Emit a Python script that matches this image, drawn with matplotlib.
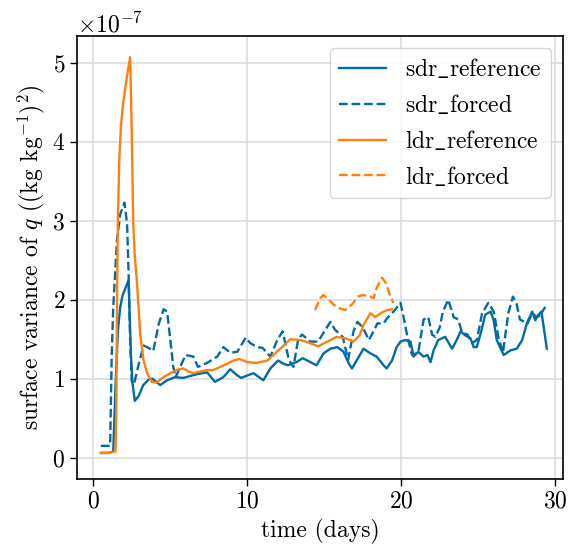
import matplotlib
matplotlib.use('Agg')
import matplotlib.pyplot as plt
import numpy as np

plt.rcParams['font.family'] = 'serif'
plt.rcParams['font.serif'] = ['cmr10']
plt.rcParams['mathtext.fontset'] = 'cm'
plt.rcParams['axes.formatter.use_mathtext'] = True
plt.rcParams['axes.unicode_minus'] = False

# values in units of 1e-7
sdr_ref_t = [0.5, 1.0, 1.3, 1.45, 1.6, 1.75, 1.9, 2.1, 2.3, 2.35, 2.45, 2.55, 2.7, 2.95,
             3.25, 3.6, 3.85, 4.15, 4.35, 4.8, 5.3, 5.85, 6.4, 6.8, 7.4, 7.9, 8.45, 8.9,
             9.3, 9.6, 10.0, 10.4, 11.05, 11.5, 12.0, 12.35, 12.65, 12.9, 13.2, 13.6,
             14.1, 14.5, 14.95, 15.4, 15.85, 16.25, 16.6, 16.8, 17.25, 17.55, 18.0, 18.4,
             18.85, 19.05, 19.4, 19.7, 19.95, 20.25, 20.6, 20.8, 21.1, 21.45, 21.7, 21.9,
             22.1, 22.4, 22.85, 23.3, 23.6, 23.85, 24.15, 24.5, 24.7, 24.9, 25.15, 25.45,
             25.8, 26.0, 26.2, 26.65, 27.1, 27.5, 27.85, 28.15, 28.5, 28.7, 28.9, 29.1, 29.45]
sdr_ref = [0.06, 0.06, 0.08, 0.9, 1.6, 1.9, 2.05, 2.15, 2.25, 1.9, 1.3, 0.95, 0.72, 0.78,
           0.92, 0.99, 1.0, 0.95, 0.92, 0.98, 1.02, 1.01, 1.04, 1.06, 1.08, 0.96, 1.02, 1.12,
           1.05, 1.01, 1.04, 1.07, 0.98, 1.13, 1.23, 1.19, 1.17, 1.19, 1.21, 1.26,
           1.21, 1.17, 1.32, 1.38, 1.4, 1.34, 1.19, 1.13, 1.28, 1.38, 1.32, 1.28,
           1.17, 1.13, 1.23, 1.4, 1.47, 1.49, 1.47, 1.28, 1.34, 1.28, 1.3, 1.21,
           1.36, 1.49, 1.53, 1.38, 1.49, 1.6, 1.55, 1.51, 1.4, 1.4, 1.57, 1.81,
           1.85, 1.74, 1.49, 1.3, 1.36, 1.38, 1.49, 1.7, 1.85, 1.74, 1.81, 1.85, 1.38]

sdr_frc_t = [0.5, 1.1, 1.2, 1.3, 1.54, 1.75, 2.03, 2.2, 2.3, 2.4, 2.5, 2.65, 2.95, 3.27,
             3.6, 3.9, 4.25, 4.57, 4.8, 5.2, 5.35, 6.0, 6.5, 6.8, 7.4, 8.05, 8.45, 8.9,
             9.35, 9.9, 10.2, 10.65, 11.0, 11.5, 11.95, 12.3, 12.7, 13.0, 13.3, 13.55,
             14.1, 14.6, 15.2, 15.4, 15.7, 16.2, 16.55, 16.9, 17.15, 17.5, 17.9, 18.2,
             18.45, 18.85, 19.1, 19.5, 19.95, 20.15, 20.4, 20.7, 21.1, 21.45, 21.75, 22.0,
             22.2, 22.5, 22.7, 23.05, 23.4, 23.7, 23.95, 24.3, 24.6, 24.9, 25.25, 25.65,
             26.0, 26.3, 26.6, 26.95, 27.25, 27.5, 27.7, 28.2, 28.5, 28.8, 29.0, 29.35]
sdr_frc = [0.15, 0.15, 1.27, 1.9, 2.75, 3.08, 3.23, 2.96, 2.32, 1.48, 0.97, 0.93, 1.18, 1.42,
           1.39, 1.35, 1.69, 1.88, 1.85, 1.15, 1.02, 1.3, 1.28, 1.15, 1.2, 1.28, 1.4, 1.33,
           1.34, 1.52, 1.45, 1.4, 1.39, 1.28, 1.49, 1.6, 1.24, 1.15, 1.49, 1.56,
           1.47, 1.47, 1.66, 1.72, 1.62, 1.53, 1.24, 1.6, 1.72, 1.65, 1.49, 1.6,
           1.7, 1.7, 1.77, 1.85, 1.96, 1.78, 1.53, 1.3, 1.33, 1.75, 1.78, 1.56,
           1.53, 1.65, 1.85, 2.0, 1.78, 1.75, 1.58, 1.56, 1.45, 1.49, 1.83, 1.96,
           1.85, 1.53, 1.33, 1.83, 2.04, 1.94, 1.75, 1.7, 1.83, 1.78, 1.8, 1.91]

ldr_ref_t = [0.5, 1.0, 1.45, 1.5, 1.55, 1.6, 1.7, 1.8, 1.95, 2.1, 2.25, 2.4, 2.5, 2.6,
             2.7, 2.85, 3.05, 3.27, 3.5, 3.8, 4.1, 4.57, 5.0, 5.4, 5.85, 6.2, 6.5, 6.9,
             7.4, 7.8, 8.25, 8.7, 9.1, 9.5, 10.0, 10.6, 11.3, 11.7, 12.25, 12.8, 13.45,
             14.1, 14.6, 15.2, 15.8, 16.4, 16.9, 17.3, 17.55, 18.0, 18.3, 18.75, 19.1, 19.4]
ldr_ref = [0.06, 0.06, 0.08, 0.6, 2.0, 3.0, 3.8, 4.2, 4.5, 4.7, 4.9, 5.07, 4.15, 2.97,
           2.55, 2.2, 1.57, 1.23, 1.07, 0.96, 0.95, 1.02, 1.07, 1.11, 1.13, 1.09, 1.07, 1.09,
           1.11, 1.11, 1.15, 1.19, 1.23, 1.25, 1.21, 1.2, 1.23, 1.3, 1.4, 1.5, 1.49,
           1.45, 1.41, 1.47, 1.53, 1.51, 1.47, 1.55, 1.68, 1.83, 1.78, 1.84, 1.87, 1.88]

ldr_frc_t = [14.4, 14.75, 14.95, 15.3, 15.6, 16.0, 16.35, 16.8, 17.2, 17.5, 18.0, 18.2,
             18.4, 18.75, 19.0, 19.3, 19.5]
ldr_frc = [1.87, 2.02, 2.06, 2.0, 1.94, 1.89, 1.87, 1.94, 2.04, 2.06, 2.04, 2.02,
           2.15, 2.28, 2.21, 2.04, 1.96]

labels = [r'sdr$\_$reference', r'sdr$\_$forced', r'ldr$\_$reference', r'ldr$\_$forced']

blue = '#006BA4'
orange = '#FF800E'
scale = 1e-7
fs = 17

fig = plt.figure(figsize=(5.68, 5.54), dpi=100)
ax = fig.add_axes([0.1356, 0.1354, 0.8556, 0.7996])

ax.plot(sdr_ref_t, np.array(sdr_ref) * scale, color=blue, lw=1.7, label=labels[0])
ax.plot(sdr_frc_t, np.array(sdr_frc) * scale, color=blue, lw=1.7, ls='--', label=labels[1])
ax.plot(ldr_ref_t, np.array(ldr_ref) * scale, color=orange, lw=1.7, label=labels[2])
ax.plot(ldr_frc_t, np.array(ldr_frc) * scale, color=orange, lw=1.7, ls='--', label=labels[3])

ax.set_xlim(-1.05, 30.5)
ax.set_ylim(-0.27e-7, 5.34e-7)
ax.set_xticks([0, 10, 20, 30])
ax.set_yticks(np.arange(0, 6) * scale)
ax.grid(True, color='#dddddd', lw=1.2)
ax.tick_params(labelsize=fs, direction='out', length=5, width=1)
ax.yaxis.get_offset_text().set_fontsize(fs)
for s in ax.spines.values():
    s.set_linewidth(1.2)

ax.set_xlabel('time (days)', fontsize=fs)
ax.set_ylabel(r'surface variance of $q$ ((kg kg$^{-1}$)$^2$)', fontsize=fs)
ax.legend(loc='upper right', fontsize=fs, framealpha=0.8, handlelength=2.0)

fig.savefig('out.png', dpi=100)
